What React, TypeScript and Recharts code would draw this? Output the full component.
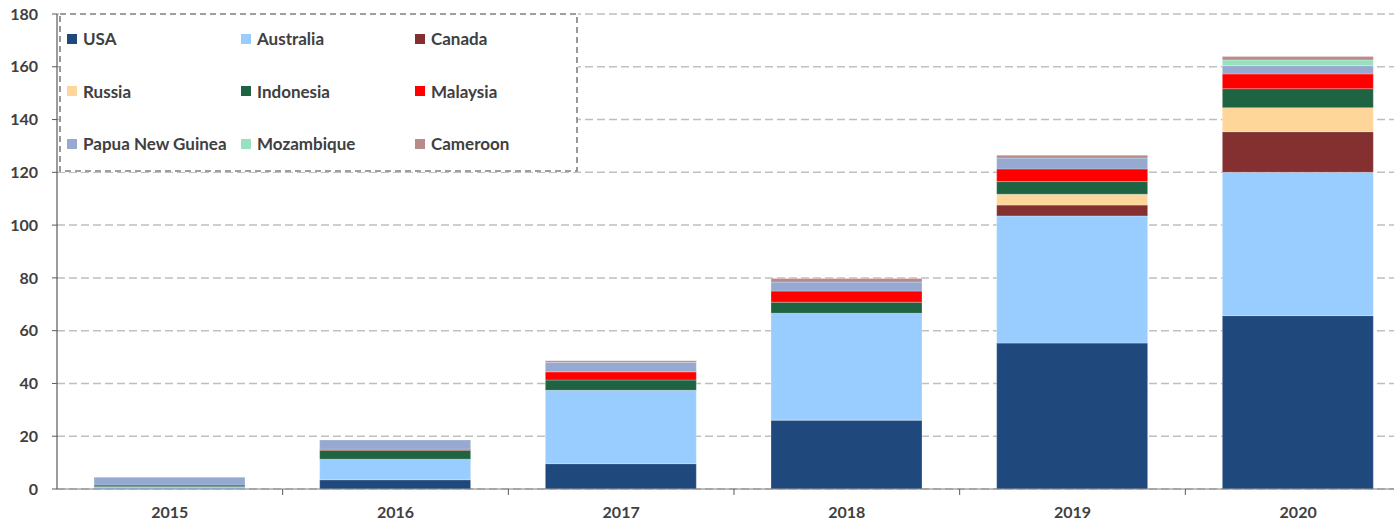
import { BarChart, Bar, XAxis, YAxis, CartesianGrid } from 'recharts';

// ═══════════════════════════════════════════════════════════════════════════
// DATA
// ═══════════════════════════════════════════════════════════════════════════

const years = ['2015', '2016', '2017', '2018', '2019', '2020'];
const yTicks = [0, 20, 40, 60, 80, 100, 120, 140, 160, 180];

const usa = [0, 3.5, 9.6, 26.1, 55.3, 65.7];
const australia = [0.9, 7.8, 27.8, 40.5, 48.2, 54.3];
const canada = [0, 0, 0, 0, 4.1, 15.4];
const russia = [0, 0, 0, 0, 4.1, 9.1];
const indonesia = [0.6, 3.4, 3.9, 4.2, 4.8, 7.2];
const malaysia = [0, 0.4, 3.1, 4.2, 4.8, 5.6];
const papua = [3.0, 3.5, 3.6, 3.4, 4.1, 3.1];
const mozambique = [0, 0, 0, 0, 0, 2.2];
const cameroon = [0, 0, 0.6, 1.4, 1.1, 1.25];

const series = [
    { key: 'USA', values: usa, color: '#1F497D' },
    { key: 'Australia', values: australia, color: '#99CCFF' },
    { key: 'Canada', values: canada, color: '#843030' },
    { key: 'Russia', values: russia, color: '#FFD699' },
    { key: 'Indonesia', values: indonesia, color: '#1E6342' },
    { key: 'Malaysia', values: malaysia, color: '#FF0000' },
    { key: 'Papua New Guinea', values: papua, color: '#95A9D1' },
    { key: 'Mozambique', values: mozambique, color: '#99E0BF' },
    { key: 'Cameroon', values: cameroon, color: '#B88A8A' },
];

const data = years.map((year, i) => {
    const row: any = { year };
    series.forEach((s) => { row[s.key] = s.values[i]; });
    return row;
});

// ═══════════════════════════════════════════════════════════════════════════
// LAYOUT
// ═══════════════════════════════════════════════════════════════════════════

const CHART_W = 1411;
const CHART_H = 520;
const Y_AXIS_W = 57;
const FONT = 'Lato, "Open Sans", sans-serif';
const TEXT = '#404040';

// category label + a tick mark on the boundary between categories
const CategoryTick = (props: any) => {
    const { x, y, payload, width, visibleTicksCount } = props;
    const band = (width || CHART_W - Y_AXIS_W) / (visibleTicksCount || years.length);
    return (
        <g>
            <line x1={x + band / 2} x2={x + band / 2} y1={y} y2={y + 6} stroke="#595959" strokeWidth={1} />
            <text x={x} y={y + 29} textAnchor="middle" fill={TEXT} fontFamily={FONT} fontWeight={700} fontSize={16}>
                {payload.value}
            </text>
        </g>
    );
};

const LEG_W = 519;
const LEG_H = 159;

const LegendBox = () => (
    <div
        style={{
            position: 'absolute',
            left: 59,
            top: 13,
            width: LEG_W,
            height: LEG_H,
            boxSizing: 'border-box',
            background: '#ffffff',
            display: 'grid',
            gridTemplateColumns: '174px 174px 160px',
            gridAutoRows: '52.5px',
            paddingLeft: 8,
            paddingTop: 0,
            fontFamily: FONT,
            fontWeight: 700,
            fontSize: 17,
            color: TEXT,
        }}
    >
        <svg width={LEG_W} height={LEG_H} style={{ position: 'absolute', left: 0, top: 0 }}>
            <rect x={1} y={1} width={LEG_W - 2} height={LEG_H - 2} fill="none" stroke="#7F7F7F" strokeWidth={1.6} strokeDasharray="6 4" />
        </svg>
        {series.map((s) => (
            <div key={s.key} style={{ display: 'flex', alignItems: 'center', gap: 6, whiteSpace: 'nowrap', position: 'relative', marginTop: -1 }}>
                <span style={{ width: 10, height: 10, background: s.color, display: 'inline-block' }} />
                <span>{s.key}</span>
            </div>
        ))}
    </div>
);

export default function App() {
    return (
        <div style={{ position: 'absolute', left: 0, top: 0, width: 1394, height: 520, overflow: 'hidden', background: '#fff' }}>
            <BarChart
                width={CHART_W}
                height={CHART_H}
                data={data}
                margin={{ top: 14, right: 0, left: 0, bottom: 0 }}
                barSize={151}
            >
                <CartesianGrid vertical={false} stroke="#BFBFBF" strokeWidth={1.5} strokeDasharray="8 4" />
                <XAxis
                    dataKey="year"
                    height={31}
                    axisLine={{ stroke: '#7F7F7F', strokeWidth: 1.2 }}
                    tickLine={false}
                    tickSize={0}
                    tickMargin={0}
                    interval={0}
                    tick={<CategoryTick />}
                />
                <YAxis
                    width={Y_AXIS_W}
                    domain={[0, 180]}
                    ticks={yTicks}
                    interval={0}
                    axisLine={{ stroke: '#595959', strokeWidth: 1.2 }}
                    tickLine={{ stroke: '#595959' }}
                    tickSize={5}
                    tickMargin={14}
                    tick={{ fill: TEXT, fontFamily: FONT, fontWeight: 700, fontSize: 16 }}
                />
                {series.map((s) => (
                    <Bar
                        key={s.key}
                        dataKey={s.key}
                        stackId="a"
                        fill={s.color}
                        stroke="#ffffff"
                        strokeOpacity={0.35}
                        strokeWidth={0.75}
                        isAnimationActive={false}
                    />
                ))}
            </BarChart>
            <LegendBox />
        </div>
    );
}
